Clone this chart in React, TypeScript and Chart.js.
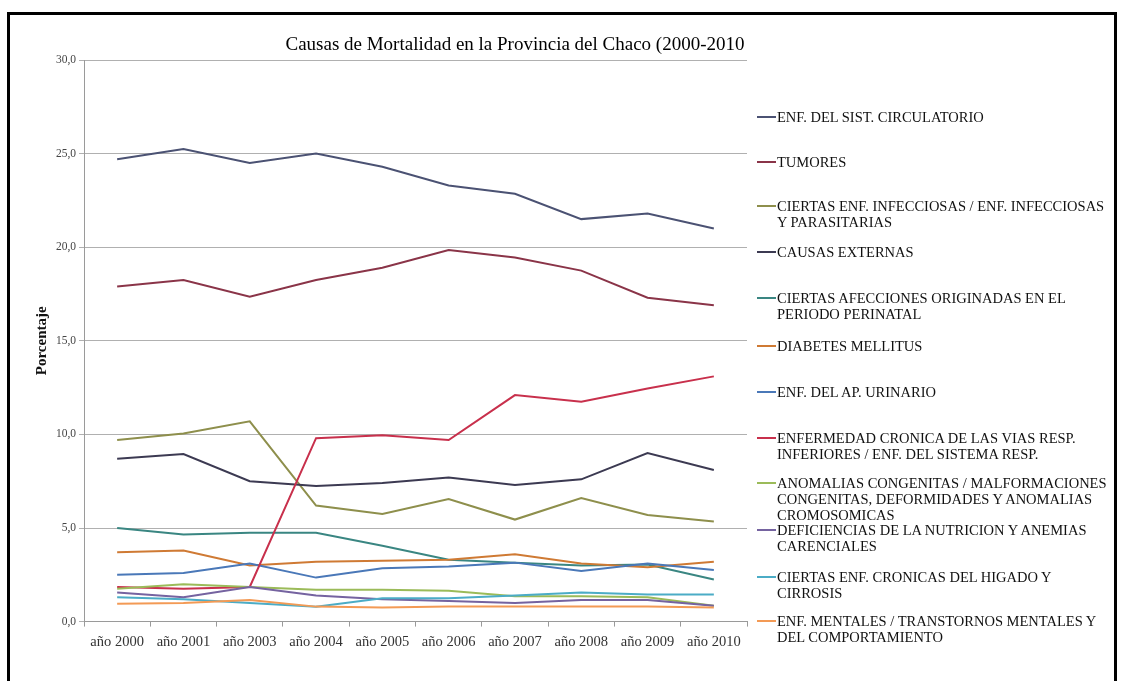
import React, { useEffect, useRef } from "react";
import { Chart, registerables } from "chart.js";

Chart.register(...registerables);

const years = ["año 2000", "año 2001", "año 2003", "año 2004", "año 2005", "año 2006", "año 2007", "año 2008", "año 2009", "año 2010"];

const circulatorio = [24.7, 25.25, 24.5, 25.0, 24.3, 23.3, 22.85, 21.5, 21.8, 21.0];
const tumores = [17.9, 18.25, 17.35, 18.25, 18.9, 19.85, 19.45, 18.75, 17.3, 16.9];
const infecciosas = [9.7, 10.05, 10.7, 6.2, 5.75, 6.55, 5.45, 6.6, 5.7, 5.35];
const causasExternas = [8.7, 8.95, 7.5, 7.25, 7.4, 7.7, 7.3, 7.6, 9.0, 8.1];
const perinatal = [5.0, 4.65, 4.75, 4.75, 4.05, 3.3, 3.15, 3.0, 3.05, 2.25];
const diabetes = [3.7, 3.8, 3.0, 3.2, 3.25, 3.3, 3.6, 3.1, 2.9, 3.2];
const urinario = [2.5, 2.6, 3.1, 2.35, 2.85, 2.95, 3.15, 2.7, 3.1, 2.75];
const viasResp = [1.85, 1.75, 1.85, 9.8, 9.95, 9.7, 12.1, 11.75, 12.45, 13.1];
const anomalias = [1.75, 2.0, 1.85, 1.7, 1.7, 1.65, 1.35, 1.35, 1.3, 0.85];
const deficiencias = [1.55, 1.3, 1.85, 1.4, 1.2, 1.1, 1.0, 1.15, 1.15, 0.85];
const higado = [1.3, 1.2, 1.0, 0.8, 1.25, 1.25, 1.4, 1.55, 1.45, 1.45];
const mentales = [0.95, 1.0, 1.15, 0.8, 0.75, 0.8, 0.8, 0.8, 0.8, 0.75];

const seriesLabels: string[][] = [
  ["ENF. DEL SIST. CIRCULATORIO"],
  ["TUMORES"],
  ["CIERTAS ENF. INFECCIOSAS / ENF. INFECCIOSAS", "Y PARASITARIAS"],
  ["CAUSAS EXTERNAS"],
  ["CIERTAS AFECCIONES ORIGINADAS EN EL", "PERIODO PERINATAL"],
  ["DIABETES MELLITUS"],
  ["ENF. DEL AP. URINARIO"],
  ["ENFERMEDAD CRONICA DE LAS VIAS RESP.", "INFERIORES / ENF. DEL SISTEMA RESP."],
  ["ANOMALIAS CONGENITAS / MALFORMACIONES", "CONGENITAS, DEFORMIDADES Y ANOMALIAS", "CROMOSOMICAS"],
  ["DEFICIENCIAS DE LA NUTRICION Y ANEMIAS", "CARENCIALES"],
  ["CIERTAS ENF. CRONICAS DEL HIGADO Y", "CIRROSIS"],
  ["ENF. MENTALES / TRANSTORNOS MENTALES Y", "DEL COMPORTAMIENTO"],
];

const seriesValues = [circulatorio, tumores, infecciosas, causasExternas, perinatal, diabetes, urinario, viasResp, anomalias, deficiencias, higado, mentales];

const seriesColors = ["#4b5273", "#8a3448", "#8e8f4c", "#3c3a52", "#3a8682", "#cf7a34", "#4a78b8", "#c8304c", "#9bbb59", "#7563a0", "#4bacc6", "#f39a55"];

const yTicks = [0, 5, 10, 15, 20, 25, 30];

const legendTops = [117, 162, 206, 252, 298, 346, 392, 438, 483, 530, 577, 621];

const serif = "'Liberation Serif', 'Times New Roman', serif";

export default function App() {
  const canvasRef = useRef<HTMLCanvasElement | null>(null);

  useEffect(() => {
    if (!canvasRef.current) return;
    const chart = new Chart(canvasRef.current, {
      type: "line",
      data: {
        labels: years,
        datasets: seriesValues.map((vals, i) => ({
          label: seriesLabels[i].join(" "),
          data: vals,
          borderColor: seriesColors[i],
          backgroundColor: seriesColors[i],
          borderWidth: 2,
          pointRadius: 0,
          tension: 0,
          fill: false,
          order: -i,
        })),
      },
      options: {
        animation: false,
        responsive: false,
        maintainAspectRatio: false,
        layout: { padding: { left: 20, right: 374, top: 60, bottom: 23 } },
        plugins: {
          legend: { display: false },
          title: { display: false },
          tooltip: { enabled: false },
        },
        scales: {
          x: {
            type: "category",
            offset: true,
            grid: {
              offset: true,
              drawOnChartArea: false,
              drawTicks: true,
              tickLength: 5,
              color: "#9a9a9a",
            },
            border: { display: true, color: "#9a9a9a", width: 1 },
            ticks: {
              color: "#333333",
              font: { family: serif, size: 14.5 },
              padding: 7,
              maxRotation: 0,
              autoSkip: false,
            },
          },
          y: {
            min: 0,
            max: 30,
            afterFit: (scale: any) => {
              scale.width = 64;
            },
            afterBuildTicks: (scale: any) => {
              scale.ticks = yTicks.map((v) => ({ value: v }));
            },
            grid: {
              color: "#b0b0b0",
              tickLength: 5,
              drawTicks: true,
            },
            border: { display: true, color: "#9a9a9a", width: 1 },
            ticks: {
              color: "#444444",
              font: { family: serif, size: 11.5 },
              padding: 3,
              callback: (v: any) => Number(v).toFixed(1).replace(".", ","),
            },
            title: {
              display: true,
              text: "Porcentaje",
              color: "#111111",
              font: { family: serif, size: 15, weight: "bold" },
              padding: { top: 13, bottom: 0 },
            },
          },
        },
      },
    });
    return () => chart.destroy();
  }, []);

  return (
    <div style={{ position: "absolute", left: 0, top: 0, width: 1121, height: 681, background: "#ffffff", overflow: "hidden" }}>
      <div
        style={{
          position: "absolute",
          left: 7,
          top: 12,
          width: 1104,
          height: 720,
          border: "3px solid #000000",
          boxSizing: "content-box",
        }}
      />
      <canvas ref={canvasRef} width={1121} height={681} style={{ position: "absolute", left: 0, top: 0, width: 1121, height: 681 }} />
      <div
        style={{
          position: "absolute",
          left: 0,
          width: 1030,
          top: 30,
          textAlign: "center",
          fontFamily: serif,
          fontSize: 19,
          color: "#000000",
          lineHeight: "28px",
          whiteSpace: "nowrap",
        }}
      >
        Causas de Mortalidad en la Provincia del Chaco (2000-2010
      </div>
      {seriesLabels.map((lines, i) => (
        <div key={i} style={{ position: "absolute", left: 757, top: legendTops[i] - 8, fontFamily: serif, fontSize: 14.5, color: "#111111", lineHeight: "16px", whiteSpace: "nowrap" }}>
          <div style={{ position: "absolute", left: 0, top: 7, width: 19, height: 2, background: seriesColors[i] }} />
          <div style={{ marginLeft: 20 }}>
            {lines.map((l, j) => (
              <div key={j}>{l}</div>
            ))}
          </div>
        </div>
      ))}
    </div>
  );
}
